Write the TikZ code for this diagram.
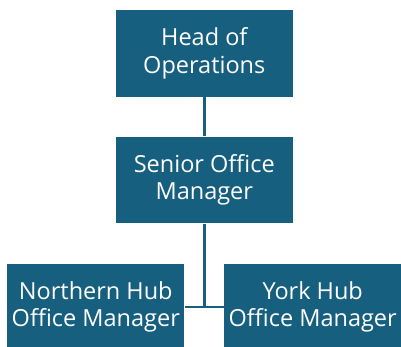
\documentclass[tikz,border=0pt]{standalone}
\usepackage{fontspec}
\setmainfont{Open Sans}
\definecolor{boxblue}{HTML}{175F7F}
\begin{document}
\begin{tikzpicture}[x=1pt,y=-1pt,
  orgbox/.style={fill=boxblue, draw=none, minimum width=177pt, minimum height=86.7pt,
    inner sep=0pt, text=white, align=center, font=\fontsize{23.5}{27.5}\selectfont},
  link/.style={draw=boxblue, line width=2.5pt}]
\clip (0,0) rectangle (401,347);
\useasboundingbox (0,0) rectangle (401,347);
\node[orgbox] (head) at (204.3,53.3) {Head of\\Operations};
\node[orgbox] (senior) at (204.3,180) {Senior Office\\Manager};
\node[orgbox] (north) at (95.8,307) {Northern Hub\\Office Manager};
\node[orgbox] (york) at (312.7,307) {York Hub\\Office Manager};
\coordinate (junc) at (senior.south |- north.east);
\draw[link] (head) -- (senior);
\draw[link] (senior) -- (junc);
\draw[link] (north) -- (york);
\end{tikzpicture}
\end{document}
